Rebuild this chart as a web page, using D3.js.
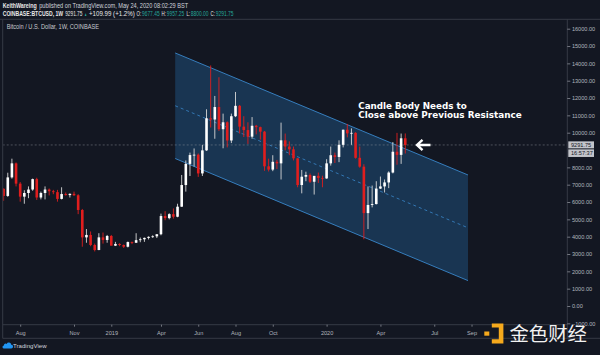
<!DOCTYPE html>
<html><head><meta charset="utf-8">
<script src="https://cdn.jsdelivr.net/npm/d3@7"></script>
<style>
html,body{margin:0;padding:0;background:#131722;}
svg{display:block;}
</style></head><body>
<svg id="chart" width="600" height="355"></svg>
<script>
// ---- data (weekly BTCUSD candles, Coinbase) ----
const weeks = ["2018-07-09","2018-07-16","2018-07-23","2018-07-30","2018-08-06","2018-08-13","2018-08-20","2018-08-27",
"2018-09-03","2018-09-10","2018-09-17","2018-09-24","2018-10-01","2018-10-08","2018-10-15","2018-10-22","2018-10-29",
"2018-11-05","2018-11-12","2018-11-19","2018-11-26","2018-12-03","2018-12-10","2018-12-17","2018-12-24","2018-12-31",
"2019-01-07","2019-01-14","2019-01-21","2019-01-28","2019-02-04","2019-02-11","2019-02-18","2019-02-25","2019-03-04",
"2019-03-11","2019-03-18","2019-03-25","2019-04-01","2019-04-08","2019-04-15","2019-04-22","2019-04-29","2019-05-06",
"2019-05-13","2019-05-20","2019-05-27","2019-06-03","2019-06-10","2019-06-17","2019-06-24","2019-07-01","2019-07-08",
"2019-07-15","2019-07-22","2019-07-29","2019-08-05","2019-08-12","2019-08-19","2019-08-26","2019-09-02","2019-09-09",
"2019-09-16","2019-09-23","2019-09-30","2019-10-07","2019-10-14","2019-10-21","2019-10-28","2019-11-04","2019-11-11",
"2019-11-18","2019-11-25","2019-12-02","2019-12-09","2019-12-16","2019-12-23","2019-12-30","2020-01-06","2020-01-13",
"2020-01-20","2020-01-27","2020-02-03","2020-02-10","2020-02-17","2020-02-24","2020-03-02","2020-03-09","2020-03-16",
"2020-03-23","2020-03-30","2020-04-06","2020-04-13","2020-04-20","2020-04-27","2020-05-04","2020-05-11","2020-05-18"];
const open  = [6760,6350,7420,8230,7060,6310,6520,6720,7320,6260,6520,6720,6620,6570,6180,6460,6400,6470,6390,5540,3960,4100,3520,3230,3960,3810,
4040,3480,3580,3520,3420,3690,3650,3800,3850,3930,3990,4020,4140,5190,5070,5300,5150,5730,6980,8200,8710,8730,7650,8980,10830,10760,11480,
10200,10600,9550,10950,11550,10350,10150,9770,10400,10320,10060,8060,7870,8320,8230,9560,9200,9040,8520,6980,7460,7560,7170,7510,7390,
7360,8230,8700,8600,9300,10170,9960,9990,8550,8040,5360,5830,5881,6775,6900,7130,7700,8900,8720,9677.45];
const high  = [6800,7690,8500,8280,7150,6680,6900,7350,7400,6600,6900,6780,6700,6700,6850,6550,6500,6600,6450,5600,4440,4300,3600,4200,4240,4100,
4100,3700,3620,3550,3720,3720,4200,3950,3950,4020,4080,4150,5330,5470,5350,5630,5900,7560,8400,8850,9090,8800,9300,11350,13880,12120,13200,
11100,10650,11100,12350,11600,10950,10600,10900,10450,10350,10100,8500,8700,8430,10580,9950,9500,9200,8530,7850,7750,7650,7500,7700,7520,
8470,9200,8850,9560,10180,10500,10250,10030,9200,8180,6900,6950,7200,7470,7300,7770,9460,9990,9950,9957.25];
const low   = [6070,6300,7350,6900,6020,5900,6220,6650,6120,6150,6150,6380,6450,6020,6150,6370,6260,6350,5300,3420,3650,3450,3150,3220,3600,3650,
3500,3460,3450,3350,3380,3570,3640,3680,3700,3840,3930,3920,4080,4950,5000,5040,5120,5720,6600,7500,8050,7450,7500,8950,10300,9650,10100,
9100,9150,9400,10900,9950,9750,9350,9650,9900,9600,7800,7760,7780,7900,7300,8980,8700,8400,6850,6500,7200,7100,6430,7100,6850,
7340,8100,8250,8300,9150,9730,9300,8500,7980,3850,4440,5690,5860,6750,6550,6800,7650,8150,8200,8800];
const close = [6350,7420,8230,7060,6310,6520,6720,7320,6260,6520,6720,6620,6570,6180,6460,6400,6470,6390,5540,3960,4100,3520,3230,3960,3810,4040,
3480,3580,3520,3420,3690,3650,3800,3850,3930,3990,4020,4140,5190,5070,5300,5150,5730,6980,8200,8710,8730,7650,8980,10830,10760,11480,10200,
10600,9550,10950,11550,10350,10150,9770,10400,10320,10060,8060,7870,8320,8230,9560,9200,9040,8520,6980,7460,7560,7170,7510,7390,7360,
8230,8700,8600,9300,10170,9960,9990,8550,8040,5360,5830,5881,6775,6900,7130,7700,8900,8720,9677.45,9291.75];

const yTicks = [16000,15000,14000,13000,12000,11000,10000,8000,7000,6000,5000,4000,3000,2000,1000,0,-1000];
const xTickDates = ["2018-08-06","2018-11-05","2019-01-07","2019-04-01","2019-06-03","2019-08-05","2019-10-07","2020-01-06","2020-04-06","2020-07-06","2020-09-07"];
const xTickLabels = ["Aug","Nov","2019","Apr","Jun","Aug","Oct","2020","Apr","Jul","Sep"];

const channelDates = ["2019-04-25","2020-09-01"];
const channelTop = [14600, 7560];
const channelBottom = [8510, 1466];
const lastPrice = 9291.75;
const lastLabel = "9291.75";
const countdown = "16:57:37";

// ---- setup ----
const parse = d3.utcParse("%Y-%m-%d");
const svg = d3.select("#chart");
const BG = "#131722", LINE = "#363a45", TXT = "#b2b5be";
const UP = "#ffffff", DOWN = "#e01e1e";
const FONT = "'Liberation Sans', Arial, sans-serif";

const plot = {l: 2.7, r: 567.3, t: 19.3, b: 324.7};
const x = d3.scaleUtc().domain([parse("2018-08-06"), parse("2020-01-06")]).range([20.2, 326.6]);
const y = d3.scaleLinear().domain([0, 16000]).range([306, 28.7]);

svg.append("rect").attr("width", 600).attr("height", 355).attr("fill", BG);

const defs = svg.append("defs");
defs.append("clipPath").attr("id", "clip").append("rect")
  .attr("x", plot.l + 0.5).attr("y", plot.t + 0.5).attr("width", plot.r - plot.l - 1).attr("height", plot.b - plot.t - 1);

const g = svg.append("g").attr("clip-path", "url(#clip)");

// channel
const cx = channelDates.map(d => x(parse(d)));
const cMid = channelTop.map((v, i) => (v + channelBottom[i]) / 2);
g.append("path")
  .attr("d", `M${cx[0]},${y(channelTop[0])}L${cx[1]},${y(channelTop[1])}L${cx[1]},${y(channelBottom[1])}L${cx[0]},${y(channelBottom[0])}Z`)
  .attr("fill", "rgba(41,121,196,0.30)");
[channelTop, channelBottom].forEach(arr => {
  g.append("line").attr("x1", cx[0]).attr("y1", y(arr[0])).attr("x2", cx[1]).attr("y2", y(arr[1]))
    .attr("stroke", "#3a88cc").attr("stroke-width", 0.9);
});
g.append("line").attr("x1", cx[0]).attr("y1", y(cMid[0])).attr("x2", cx[1]).attr("y2", y(cMid[1]))
  .attr("stroke", "#3a88cc").attr("stroke-width", 0.8).attr("stroke-dasharray", "3,3");

// last price line
g.append("line").attr("x1", plot.l).attr("x2", plot.r).attr("y1", y(lastPrice)).attr("y2", y(lastPrice))
  .attr("stroke", "#9598a1").attr("stroke-opacity", 0.75).attr("stroke-width", 0.6).attr("stroke-dasharray", "2,2");

// candles
const candles = weeks.map((w, i) => ({d: parse(w), o: open[i], h: high[i], l: low[i], c: close[i]}));
const cg = g.append("g");
const bw = 2.6;
cg.selectAll("line.wick").data(candles).join("line").attr("class", "wick")
  .attr("x1", d => x(d.d)).attr("x2", d => x(d.d))
  .attr("y1", d => y(d.h)).attr("y2", d => y(d.l))
  .attr("stroke", d => d.c >= d.o ? "#d8d8d8" : DOWN).attr("stroke-width", 0.9);
cg.selectAll("rect.body").data(candles).join("rect").attr("class", "body")
  .attr("x", d => x(d.d) - bw / 2).attr("width", bw)
  .attr("y", d => y(Math.max(d.o, d.c)))
  .attr("height", d => Math.max(0.8, Math.abs(y(d.o) - y(d.c))))
  .attr("fill", d => d.c >= d.o ? UP : DOWN);

// borders
const bl = svg.append("g").attr("stroke", LINE).attr("stroke-width", 1);
bl.append("line").attr("x1", 0).attr("x2", 600).attr("y1", plot.t).attr("y2", plot.t);
bl.append("line").attr("x1", plot.l).attr("x2", plot.l).attr("y1", plot.t).attr("y2", 338.3);
bl.append("line").attr("x1", plot.r).attr("x2", plot.r).attr("y1", plot.t).attr("y2", 338.3);
bl.append("line").attr("x1", plot.l).attr("x2", plot.r).attr("y1", plot.b).attr("y2", plot.b);
bl.append("line").attr("x1", plot.l).attr("x2", 600).attr("y1", 338.3).attr("y2", 338.3);

// y axis
const ya = svg.append("g").attr("transform", `translate(${plot.r},0)`)
  .call(d3.axisRight(y).tickValues(yTicks).tickFormat(d3.format(".2f")).tickSize(3).tickPadding(1.6));
ya.select(".domain").remove();
ya.selectAll("line").attr("stroke", TXT).attr("stroke-width", 0.6);
ya.selectAll("text").attr("fill", TXT).attr("font-family", FONT).attr("font-size", 5.6);

// x axis
const xa = svg.append("g").attr("transform", `translate(0,${plot.b})`)
  .call(d3.axisBottom(x).tickValues(xTickDates.map(parse)).tickFormat((d, i) => xTickLabels[i]).tickSize(2).tickPadding(4.2));
xa.select(".domain").remove();
xa.selectAll("line").attr("stroke", TXT).attr("stroke-width", 0.6);
xa.selectAll("text").attr("fill", TXT).attr("font-family", FONT).attr("font-size", 5.6);

// price label boxes
const pl = svg.append("g");
pl.append("rect").attr("x", 568.3).attr("y", y(lastPrice) - 3.6).attr("width", 25.7).attr("height", 7).attr("fill", "#c3c5cb");
pl.append("text").attr("x", 571).attr("y", y(lastPrice) + 2).text(lastLabel)
  .attr("fill", "#131722").attr("font-family", FONT).attr("font-size", 5.6);
pl.append("rect").attr("x", 568.3).attr("y", y(lastPrice) + 4.4).attr("width", 25.7).attr("height", 7.6).attr("fill", "#c3c5cb");
pl.append("text").attr("x", 571).attr("y", y(lastPrice) + 10.3).text(countdown)
  .attr("fill", "#131722").attr("font-family", FONT).attr("font-size", 5.6);

// header texts
const hdr = svg.append("g").attr("font-family", FONT);
const l1 = hdr.append("text").attr("y", 7.9).attr("font-size", 6.6);
l1.append("tspan").attr("x", 2.7).attr("font-weight", "bold").attr("fill", "#e8e8e8")
  .attr("textLength", 34).attr("lengthAdjust", "spacingAndGlyphs").text("KeithWareing");
l1.append("tspan").attr("x", 39.2).attr("fill", "#d1d4dc")
  .attr("textLength", 149).attr("lengthAdjust", "spacingAndGlyphs").text("published on TradingView.com, May 24, 2020 08:02:29 BST");

const l2 = [
  {t: "COINBASE:BTCUSD, 1W", x0: 2.7, x1: 63.2, c: "#e8e8e8", b: true},
  {t: "9291.75", x0: 65.2, x1: 82.4, c: "#e8e8e8"},
  {t: "▲", x0: 84.2, x1: 87, c: "#26a69a", fs: 5},
  {t: "+109.99 (+1.2%)", x0: 89, x1: 134.8, c: "#e8e8e8"},
  {t: "O:", x0: 136.6, x1: 141.2, c: "#e8e8e8"},
  {t: "9677.45", x0: 142, x1: 159.6, c: "#26a69a"},
  {t: "H:", x0: 161.6, x1: 166, c: "#e8e8e8"},
  {t: "9957.25", x0: 166.8, x1: 184.2, c: "#26a69a"},
  {t: "L:", x0: 186.4, x1: 190, c: "#e8e8e8"},
  {t: "8800.00", x0: 190.8, x1: 208.6, c: "#26a69a"},
  {t: "C:", x0: 210.6, x1: 215, c: "#e8e8e8"},
  {t: "9291.75", x0: 215.8, x1: 233.6, c: "#26a69a"}
];
const l2t = hdr.append("text").attr("y", 15.8).attr("font-size", 6.4);
l2.forEach(p => {
  l2t.append("tspan").attr("x", p.x0).attr("font-size", p.fs || 6.4)
    .attr("font-weight", p.b ? "bold" : "normal").attr("fill", p.c)
    .attr("textLength", p.x1 - p.x0).attr("lengthAdjust", "spacingAndGlyphs").text(p.t);
});
hdr.append("text").attr("x", 6.7).attr("y", 29.3).attr("font-size", 6.4).attr("fill", "#c8cad0")
  .attr("textLength", 92.3).attr("lengthAdjust", "spacingAndGlyphs").text("Bitcoin / U.S. Dollar, 1W, COINBASE");

// annotation
const ann = svg.append("g").attr("font-family", "'DejaVu Sans', Verdana, sans-serif").attr("font-weight", "bold").attr("fill", "#ffffff");
ann.append("text").attr("x", 358.3).attr("y", 109).attr("font-size", 8.8)
  .attr("textLength", 108.4).attr("lengthAdjust", "spacingAndGlyphs").text("Candle Body Needs to");
ann.append("text").attr("x", 358.3).attr("y", 118.4).attr("font-size", 8.8)
  .attr("textLength", 163.4).attr("lengthAdjust", "spacingAndGlyphs").text("Close above Previous Resistance");

// arrow
const ay = y(lastPrice);
svg.append("path")
  .attr("d", `M430.5,${ay}H417.5M422.5,${ay - 5.2}L417,${ay}L422.5,${ay + 5.2}`)
  .attr("fill", "none").attr("stroke", "#ffffff").attr("stroke-width", 2.4).attr("stroke-linejoin", "miter");

// TradingView logo
svg.append("path")
  .attr("d", "M4.3,348.6H11a1.9,1.9 0 0 0 0.3,-3.8a2.5,2.5 0 0 0 -4.7,-0.9a1.7,1.7 0 0 0 -2.7,1.5a1.6,1.6 0 0 0 0.4,3.2Z")
  .attr("fill", "#2196f3");
svg.append("text").attr("x", 13).attr("y", 348.4).attr("font-family", FONT).attr("font-size", 6).attr("fill", "#d1d4dc")
  .attr("textLength", 33.6).attr("lengthAdjust", "spacingAndGlyphs").text("TradingView");

// watermark 金色财经
const wm = svg.append("g");
wm.append("rect").attr("x", 484.3).attr("y", 331.5).attr("width", 5).attr("height", 4.2).attr("fill", "#f5a91c");
wm.append("path").attr("d", "M491.8,323.4H503.4V343.4H491.8V339.2H498.8V327.4H491.8Z").attr("fill", "#f5a91c");
wm.append("text").attr("x", 509.5).attr("y", 340.6).attr("font-family", "'Noto Sans CJK SC', sans-serif")
  .attr("font-size", 19).attr("fill", "#f2f2f2").attr("textLength", 77.5).attr("lengthAdjust", "spacingAndGlyphs").text("金色财经");
</script>
</body></html>
